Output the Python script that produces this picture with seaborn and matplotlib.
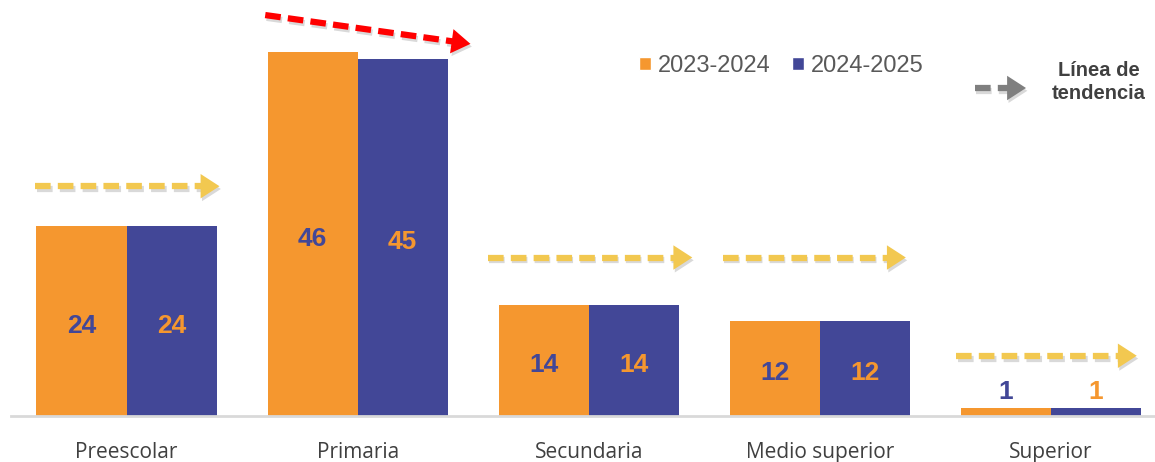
import matplotlib
matplotlib.use("Agg")
import matplotlib.pyplot as plt
import matplotlib.patheffects as pe
from matplotlib.patches import Patch
import seaborn as sns
import pandas as pd

categories = ["Preescolar", "Primaria", "Secundaria", "Medio superior", "Superior"]
periods = ["2023-2024", "2024-2025"]
values_2023 = [24, 46, 14, 12, 1]
values_2024 = [24, 45, 14, 12, 1]
# trend direction per category: "eq" = stable (yellow), "down" = decreasing (red)
trend = ["eq", "down", "eq", "eq", "eq"]

ORANGE = "#F5972F"
BLUE = "#424797"
YELLOW = "#F2C850"
RED = "#FF0000"
GREY_ARROW = "#7F7F7F"
TEXT = "#404040"

df = pd.DataFrame({
    "cat": categories * 2,
    "period": [periods[0]] * len(categories) + [periods[1]] * len(categories),
    "value": values_2023 + values_2024,
})

sns.set_theme(style="white")
plt.rcParams["font.family"] = ["Liberation Sans", "DejaVu Sans"]

fig = plt.figure(figsize=(11.55, 4.62), dpi=100)
ax = fig.add_axes([11 / 1155, 1 - 416 / 462, 1 - 11 / 1155, 416 / 462])

sns.barplot(data=df, x="cat", y="value", hue="period", order=categories,
            hue_order=periods, palette={periods[0]: ORANGE, periods[1]: BLUE},
            width=0.78, saturation=1, ax=ax, legend=False, errorbar=None,
            linewidth=0, edgecolor="none")

ax.set_xlim(-0.5, 4.45)
ax.set_ylim(0, 52.5)
ax.set_xlabel("")
ax.set_ylabel("")
ax.set_yticks([])
for s in ["left", "right", "top"]:
    ax.spines[s].set_visible(False)
ax.spines["bottom"].set_color("#D9D9D9")
ax.spines["bottom"].set_linewidth(2)
ax.tick_params(axis="x", length=0, pad=19, labelsize=15, labelcolor=TEXT)
for lab in ax.get_xticklabels():
    lab.set_fontfamily(["Open Sans", "DejaVu Sans"])

# value labels
for container, lab_color in zip(ax.containers, [BLUE, ORANGE]):
    for bar in container:
        h = bar.get_height()
        cx = bar.get_x() + bar.get_width() / 2
        if h >= 5:
            y = h / 2 - 0.6
            va = "center"
        else:
            y = h + 0.5
            va = "bottom"
        ax.text(cx, y, f"{h:.0f}", ha="center", va=va, fontsize=19,
                fontweight="bold", color=lab_color)

shadow = [pe.SimpleLineShadow(offset=(1, -2), alpha=0.15, shadow_color="black"), pe.Normal()]
pshadow = [pe.SimplePatchShadow(offset=(1, -2), alpha=0.15, shadow_rgbFace="black"), pe.Normal()]
DASH = (0, (2.5, 1.15))


def trend_arrow(x0, y0, x1, y1, color):
    ax.plot([x0, x1], [y0, y1], color=color, lw=4.5, linestyle=DASH,
            dash_capstyle="butt", path_effects=shadow, clip_on=False)
    dx, dy = x1 - x0, y1 - y0
    ax.annotate("", xy=(x1 + dx * 0.07, y1 + dy * 0.07), xytext=(x1 - dx * 0.02, y1 - dy * 0.02),
                arrowprops=dict(arrowstyle="-|>,head_length=0.85,head_width=0.55",
                                mutation_scale=16, color=color, lw=0,
                                shrinkA=0, shrinkB=0, path_effects=pshadow),
                annotation_clip=False)


# per-category trend arrows (offsets relative to bar groups)
arrow_specs = {
    0: (-0.394, 29.0, 0.35, 29.0),
    1: (-0.40, 50.6, 0.43, 47.2),
    2: (-0.437, 20.0, 0.39, 20.0),
    3: (-0.42, 20.0, 0.32, 20.0),
    4: (-0.41, 7.6, 0.32, 7.6),
}
for i, t in enumerate(trend):
    x0, y0, x1, y1 = arrow_specs[i]
    trend_arrow(i + x0, y0, i + x1, y1, RED if t == "down" else YELLOW)

# legend
handles = [Patch(facecolor=ORANGE, label=periods[0]), Patch(facecolor=BLUE, label=periods[1])]
leg = fig.legend(handles=handles, loc="center left", bbox_to_anchor=(639 / 1155, 1 - 66 / 462),
                 ncol=2, frameon=False, fontsize=17, handlelength=0.5, handleheight=0.5,
                 handletextpad=0.3, columnspacing=0.9, borderpad=0, borderaxespad=0)
for t in leg.get_texts():
    t.set_color("#595959")

# trend line legend
fx0, fx1, fy = 975 / 1155, 1012 / 1155, 1 - 88 / 462
ax.plot([fx0, fx1], [fy, fy], transform=fig.transFigure, color=GREY_ARROW, lw=4.5,
        linestyle=DASH, dash_capstyle="butt", path_effects=shadow, clip_on=False)
ax.annotate("", xy=(1026 / 1155, fy), xytext=(1010 / 1155, fy),
            xycoords=fig.transFigure, textcoords=fig.transFigure,
            arrowprops=dict(arrowstyle="-|>,head_length=0.85,head_width=0.55",
                            mutation_scale=16, color=GREY_ARROW, lw=0,
                            shrinkA=0, shrinkB=0, path_effects=pshadow),
            annotation_clip=False)
fig.text(1099 / 1155, 1 - 82 / 462, "Línea de\ntendencia", ha="center", va="center",
         fontsize=14.5, fontweight="bold", color=TEXT, linespacing=1.3)

fig.savefig("out.png", dpi=100)
